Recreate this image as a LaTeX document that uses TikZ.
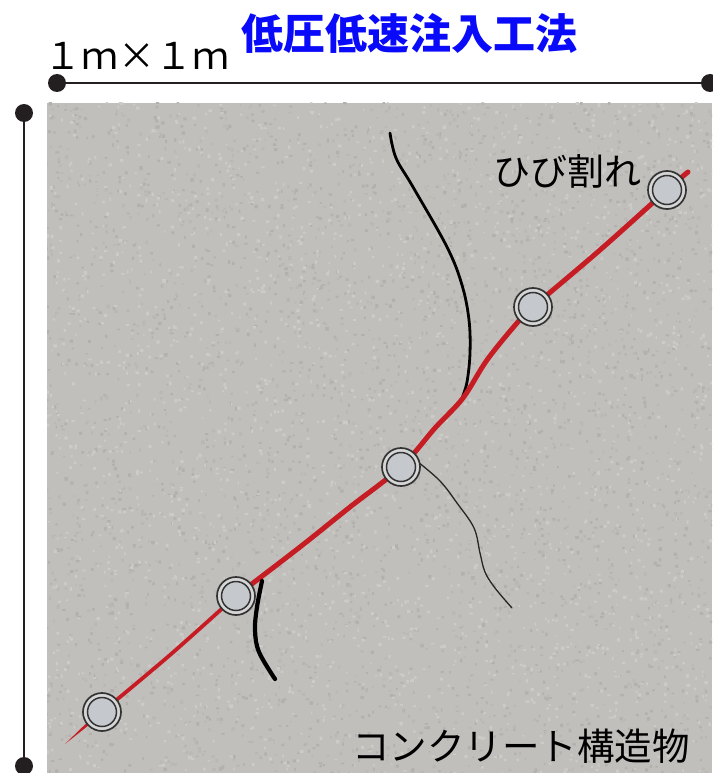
\documentclass[tikz,border=0pt]{standalone}
\usepackage{fontspec}
\newfontfamily\jp{Noto Sans CJK JP}
\definecolor{ink}{RGB}{35,31,32}
\definecolor{concrete}{RGB}{193,191,188}
\definecolor{speckdark}{RGB}{179,177,174}
\definecolor{speckmid}{RGB}{186,184,181}
\definecolor{specklight}{RGB}{205,203,200}
\definecolor{crackred}{RGB}{198,28,36}
\definecolor{injring}{RGB}{214,214,214}
\definecolor{injcore}{RGB}{197,200,205}
\definecolor{titleblue}{RGB}{10,10,250}
\begin{document}
\begin{tikzpicture}[x=1pt,y=-1pt,
  dimline/.style={draw=ink, line width=2.6pt},
  dimdot/.style={circle, fill=ink, minimum size=18pt, inner sep=0pt},
  injector/.style={circle, draw=black!80, line width=1.7pt, fill=injring,
    minimum size=38pt, inner sep=0pt,
    path picture={\filldraw[fill=injcore, draw=black!80, line width=1.5pt]
      (path picture bounding box.center) circle (14.5pt);}},
  thincrack/.style={draw=black!85, line width=1.3pt, line cap=round},
  crack/.style={draw=black, line width=2.8pt, line cap=round},
  thickcrack/.style={draw=black, line width=4.2pt, line cap=round},
  redcrack/.style={draw=crackred, line cap=round, line join=round},
  label/.style={inner sep=0pt, font=\jp\fontsize{37}{37}\selectfont}
]
\useasboundingbox (0,0) rectangle (712,773);

% concrete slab with a mottled surface, grains laid in small batches per shade
\begin{scope}
  \clip (47,103) rectangle (712,773);
  \fill[concrete] (47,103) rectangle (712,773);
  \pgfmathsetseed{11}
  \foreach \shade/\n in {speckdark/14, speckmid/10, specklight/14}{
    \foreach \c in {1,...,\n}{
      \fill[\shade] \foreach \k in {1,...,150}{
        ({45+667*rnd},{101+672*rnd}) rectangle ++({1.4+2.2*rnd},{1.4+2.2*rnd}) };
    }
  }
\end{scope}

% dimension lines
\node[dimdot] (h1) at (57,83) {};
\node[dimdot] (h2) at (710,83) {};
\draw[dimline] (h1.center) -- (h2.center);
\node[dimdot] (v1) at (24,113) {};
\node[dimdot] (v2) at (24,766) {};
\draw[dimline] (v1.center) -- (v2.center);

% texts
\node[inner sep=0pt, font=\jp\fontsize{37}{37}\selectfont] (size) at (137,56) {１ｍ×１ｍ};
\node[inner sep=0pt, font=\jp\bfseries\fontsize{42}{42}\selectfont, text=titleblue] (title) at (409,34) {低圧低速注入工法};
\node[label] (crk) at (567,171) {ひび割れ};
\node[label, font=\jp\fontsize{37.5}{37.5}\selectfont] (slab) at (521,746) {コンクリート構造物};

% injection points
\coordinate (p1) at (102,712);
\coordinate (p2) at (236,596);
\coordinate (p3) at (401,467);
\coordinate (p4) at (533,307);
\coordinate (p5) at (667,190);

% branch crack meeting the main crack
\draw[crack] plot[smooth, tension=0.6] coordinates {(390,133) (396,158) (413,187) (447,247) (462,285) (469,320) (470,353) (467,382) (462,398)};

% main crack
\fill[crackred] (100.5,709.5) -- (103.5,713.5) -- (65,744) -- cycle;
\draw[redcrack, line width=3.8pt] plot[smooth, tension=0.5] coordinates {(p1) (170,655) (p2)};
\draw[redcrack, line width=5pt] plot[smooth, tension=0.55] coordinates {(p2) (300,547) (350,507) (p3) (435,428) (463,398) (487,360) (517,323) (p4) (600,250) (p5) (688,172)};

% secondary cracks
\draw[thincrack] plot[smooth, tension=0.6] coordinates {(418,462) (440,481) (457,503) (474,528) (480,553) (485,572) (495,588) (512,608)};
\draw[thickcrack] plot[smooth, tension=0.6] coordinates {(262,581) (257,607) (255,630) (259,652) (275,679)};

% injectors
\foreach \i in {1,...,5}{
  \node[injector] (inj\i) at (p\i) {};
}
\end{tikzpicture}
\end{document}
